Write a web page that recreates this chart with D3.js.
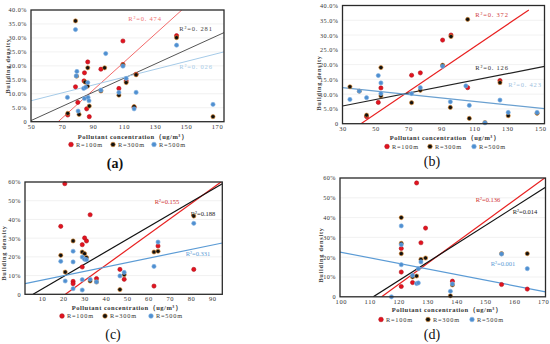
<!DOCTYPE html>
<html><head><meta charset="utf-8">
<script src="https://cdn.jsdelivr.net/npm/d3@7/dist/d3.min.js"></script>
<style>body{margin:0;background:#fff}svg{display:block}</style>
</head><body>
<script>
// ---------- data ----------
const seriesNames = ["R=100m", "R=300m", "R=500m"];

// panel (a)
const aR100 = [[73.7,2.4],[78.7,12.5],[80.2,6.9],[84.5,17.5],[84.2,14.6],[86.6,21.4],[85.9,4.6],[87.6,1.8],[95.1,18.8],[109.3,28.9],[109.3,20.5],[106.7,11.9],[111.4,14.6],[117.8,17.0],[143.9,30.8],[116.5,5.2]];
const aR300 = [[73.7,3.0],[78.7,36.1],[81.0,2.6],[84.9,14.2],[86.4,12.7],[86.6,19.3],[87.6,5.6],[97.5,19.3],[109.3,20.3],[106.7,9.5],[111.4,14.0],[116.5,5.4],[117.8,16.8],[143.9,30.1],[167.4,1.8],[95.1,11.0],[79.4,16.3]];
const aR500 = [[73.5,8.7],[78.7,33.0],[79.6,18.0],[79.2,16.4],[80.4,3.8],[84.0,11.9],[84.5,8.3],[86.6,14.0],[85.2,12.3],[86.8,8.7],[87.4,7.5],[95.1,11.3],[98.2,24.4],[106.7,10.5],[109.3,19.9],[111.4,15.5],[116.5,4.6],[117.8,10.5],[143.9,27.4],[167.4,6.2]];
const aTrend = [[[67.5,0],[147.3,40]],[[50,0.4],[174.5,31.9]],[[50,7.5],[174.5,25]]];
const aR2 = ["R²=0. 474","R²=0. 281","R²=0. 026"];

// panel (b)
const bR100 = [[44.6,2.4],[51.7,7.2],[53.3,12.1],[71.9,16.4],[77.2,17.2],[90.7,28.3],[95.8,30.0],[105.9,12.2],[125.5,14.6]];
const bR300 = [[34.5,12.5],[40.2,11.0],[44.6,2.9],[53.3,19.0],[53.3,9.4],[71.9,7.1],[77.2,11.3],[90.7,19.8],[95.8,29.5],[95.4,5.5],[105.9,35.3],[106.9,1.8],[116.4,0.4],[125.5,13.9],[130.5,2.7],[148,3.5]];
const bR500 = [[34.5,8.2],[40.2,11.0],[44.6,8.8],[51.7,16.3],[53.3,13.8],[53.3,10.2],[71.9,10.2],[77.2,12.2],[90.7,19.4],[95.4,7.4],[104.8,12.8],[106.9,6.2],[116.4,0.3],[125.5,8.0],[130.5,3.8],[148,3.8]];
const bTrend = [[[41.2,0],[143,38.5]],[[30,6.0],[152.5,19.4]],[[30,12.2],[152.5,5.1]]];
const bR2 = ["R²=0. 372","R²=0. 126","R²=0. 423"];

// panel (c)
const cR100 = [[20.7,59.1],[18.8,36.3],[24.6,6.9],[24.6,5.7],[28.9,26.5],[28.9,14.6],[30.0,30.1],[30.9,28.5],[32.6,42.5],[35.6,8.4],[46.6,13.3],[48.6,8.0],[62.6,4.4],[64.5,25.8],[81.3,13.3]];
const cR300 = [[18.8,20.8],[20.9,11.9],[24.6,28.5],[28.9,22.6],[30.0,21.7],[30.9,19.6],[32.6,7.1],[35.6,6.6],[46.6,2.5],[48.6,10.5],[62.6,22.6],[64.5,23.0],[81.3,41.8]];
const cR500 = [[18.8,17.6],[20.9,7.1],[24.6,23.0],[24.6,17.3],[24.6,3.0],[28.9,19.9],[28.9,7.8],[28.9,2.3],[30.0,18.7],[30.9,18.5],[32.6,8.0],[35.6,6.6],[46.6,9.8],[48.6,11.7],[62.6,14.9],[64.5,27.9],[81.3,37.9]];
const cTrend = [[[21,0],[94.7,60.5]],[[5.8,0],[94.7,59.1]],[[2,5.7],[94.7,27.4]]];
const cR2 = ["R²=0.155","R²=0.188","R²=0.331"];

// panel (d)
const dR100 = [[126.2,57.5],[120.9,24.4],[120.9,12.5],[120.9,5.2],[124.8,7.2],[127.7,27.3],[129.3,34.7],[138.6,7.9],[155.6,6.2],[164.5,3.9]];
const dR300 = [[120.9,40.0],[120.9,27.0],[120.9,21.8],[124.8,10.0],[126.2,10.5],[127.7,18.9],[129.3,19.6],[138.6,6.0],[137.9,0.5],[155.6,21.8],[164.5,21.8]];
const dR500 = [[120.9,35.8],[120.9,26.3],[120.9,16.2],[124.8,10.8],[126.2,6.7],[126.8,7.0],[127.7,17.6],[126.8,14.2],[138.6,6.5],[137.9,2.8],[155.6,21.6],[164.5,14.2],[117.5,0]];
const dTrend = [[[114.1,0],[170.8,60.3]],[[111.2,0],[170.8,55.3]],[[99.7,22.6],[170.8,2.5]]];
const dR2 = ["R²=0.136","R²=0.014","R²=0.001"];

// tick labels
const xTicksA = [50,70,90,110,130,150,170];
const xTicksB = [30,50,70,90,110,130,150];
const xTicksC = [10,20,30,40,50,60,70,80,90];
const xTicksD = [100,110,120,130,140,150,160,170];
const yTicks40 = [0,5,10,15,20,25,30,35,40];
const yTicks60 = [0,10,20,30,40,50,60];
const xTitle = "Pollutant concentration（ug/m³）";
const yTitle = "Building density";

// ---------- drawing ----------
const svg = d3.select("body").append("svg").attr("width",550).attr("height",344);
const serif = "'Liberation Serif','DejaVu Serif',serif";

function panel(cfg){
  const g = svg.append("g");
  const x = d3.scaleLinear().domain(cfg.xDom).range([cfg.l, cfg.r]);
  const y = d3.scaleLinear().domain(cfg.yDom).range([cfg.b, cfg.t]);
  const id = "clip"+cfg.tag;
  g.append("clipPath").attr("id",id).append("rect")
    .attr("x",cfg.l).attr("y",cfg.t).attr("width",cfg.r-cfg.l).attr("height",cfg.b-cfg.t);
  // grid
  g.append("g").selectAll("line").data(cfg.yTicks.filter(v=>v>0)).join("line")
    .attr("x1",cfg.l).attr("x2",cfg.r).attr("y1",d=>y(d)).attr("y2",d=>y(d))
    .attr("stroke","#ededed").attr("stroke-width",0.8);
  // axes
  const ax = g.append("g").attr("transform",`translate(0,${cfg.b})`)
    .call(d3.axisBottom(x).tickValues(cfg.xTicks).tickSize(0).tickPadding(2.5));
  ax.select(".domain").remove();
  ax.selectAll("text").attr("font-family",serif).attr("font-size",6.5).attr("fill","#333").attr("letter-spacing",0.6);
  const ay = g.append("g").attr("transform",`translate(${cfg.l},0)`)
    .call(d3.axisLeft(y).tickValues(cfg.yTicks).tickSize(0).tickPadding(4).tickFormat(cfg.yFmt));
  ay.select(".domain").remove();
  ay.selectAll("text").attr("font-family",serif).attr("font-size",6.2).attr("fill","#333").attr("letter-spacing",0.5);
  // trend lines
  const line = d3.line().x(d=>x(d[0])).y(d=>y(d[1]));
  g.append("g").attr("clip-path",`url(#${id})`).selectAll("path").data(cfg.trend).join("path")
    .attr("d",line).attr("fill","none")
    .attr("stroke",(d,i)=>cfg.lineColors[i]).attr("stroke-width",cfg.lineW);
  // points
  const fills = ["#e3121f","#111111","#4f8fd0"];
  const strokes = ["#b0101a","#e08a2a","#7fb0e0"];
  cfg.series.forEach((s,i)=>{
    g.append("g").selectAll("circle").data(s).join("circle")
      .attr("cx",d=>x(d[0])).attr("cy",d=>y(d[1])).attr("r",2.1)
      .attr("fill",fills[i]).attr("stroke",strokes[i]).attr("stroke-width",0.6);
  });
  // frame
  g.append("rect").attr("x",cfg.l).attr("y",cfg.t).attr("width",cfg.r-cfg.l).attr("height",cfg.b-cfg.t)
    .attr("fill","none").attr("stroke","#2a2a2a").attr("stroke-width",1.3);
  // R2 labels
  cfg.r2.forEach((txt,i)=>{
    g.append("text").attr("x",cfg.r2Pos[i][0]).attr("y",cfg.r2Pos[i][1]).attr("text-anchor","middle")
      .attr("font-family",serif).attr("font-size",6.5).attr("letter-spacing",cfg.r2Space)
      .attr("fill",cfg.labelColors[i]).text(txt);
  });
  // axis titles
  g.append("text").attr("x",cfg.xt[0]).attr("y",cfg.xt[1]).attr("text-anchor","middle")
    .attr("font-family",serif).attr("font-size",6.5).attr("font-weight","bold").attr("letter-spacing",0.5)
    .attr("fill","#333").text(xTitle);
  g.append("text").attr("transform",`translate(${cfg.yt[0]},${cfg.yt[1]}) rotate(-90)`).attr("text-anchor","middle")
    .attr("font-family",serif).attr("font-size",6.3).attr("font-weight","bold").attr("letter-spacing",0.7)
    .attr("fill","#333").text(yTitle);
  // legend
  seriesNames.forEach((nm,i)=>{
    const lx = cfg.legX[i];
    g.append("circle").attr("cx",lx).attr("cy",cfg.legY).attr("r",2.3)
      .attr("fill",fills[i]).attr("stroke",strokes[i]).attr("stroke-width",0.6);
    g.append("text").attr("x",lx+5).attr("y",cfg.legY+2.3).attr("font-family",serif).attr("font-size",6.3)
      .attr("letter-spacing",0.8).attr("fill","#333").text(nm);
  });
  // panel tag
  g.append("text").attr("x",cfg.tagPos[0]).attr("y",cfg.tagPos[1]).attr("text-anchor","middle")
    .attr("font-family",serif).attr("font-size",14).attr("font-weight",cfg.tagBold?"bold":"normal")
    .attr("fill","#111").text(`(${cfg.tag})`);
}

const fmt1 = d => d===0 ? "0" : d.toFixed(1)+"%";
const fmt0 = d => d===0 ? "0" : d+"%";

panel({tag:"a", l:31, r:224, t:10, b:121.7, xDom:[50,174.5], yDom:[0,40], xTicks:xTicksA, yTicks:yTicks40, yFmt:fmt1,
  series:[aR100,aR300,aR500], trend:aTrend, lineColors:["#f26a6a","#555555","#a6cbe8"], lineW:1,
  r2:aR2, r2Pos:[[145,21],[196,31],[196,69]], r2Space:0.8, labelColors:["#f07070","#444","#a6cbe8"],
  xt:[133,138.5], yt:[10,66], legX:[71,113,154], legY:144.5, tagPos:[115,168], tagBold:true});

panel({tag:"b", l:342.5, r:544.5, t:5.5, b:123.7, xDom:[30,152.5], yDom:[0,40], xTicks:xTicksB, yTicks:yTicks40, yFmt:fmt1,
  series:[bR100,bR300,bR500], trend:bTrend, lineColors:["#e82020","#222222","#6aa0d0"], lineW:1.2,
  r2:bR2, r2Pos:[[492,17],[492,70],[525,87]], r2Space:0.8, labelColors:["#d04040","#333","#9cc0e0"],
  xt:[445,140], yt:[321,83], legX:[387,430,474], legY:146.5, tagPos:[432,166], tagBold:false});

panel({tag:"c", l:25, r:222.3, t:182, b:294.3, xDom:[2,94.7], yDom:[0,60], xTicks:xTicksC, yTicks:yTicks60, yFmt:fmt0,
  series:[cR100,cR300,cR500], trend:cTrend, lineColors:["#e82020","#111111","#5b9bd5"], lineW:1.2,
  r2:cR2, r2Pos:[[167,204],[203,216],[198,256]], r2Space:0, labelColors:["#d03030","#222","#5b9bd5"],
  xt:[127,309.5], yt:[6,253], legX:[62,105,151], legY:316, tagPos:[113,339], tagBold:false});

panel({tag:"d", l:340, r:545.5, t:178, b:296.8, xDom:[99.7,170.8], yDom:[0,60], xTicks:xTicksD, yTicks:yTicks60, yFmt:fmt0,
  series:[dR100,dR300,dR500], trend:dTrend, lineColors:["#e82020","#111111","#5b9bd5"], lineW:1.2,
  r2:dR2, r2Pos:[[488,202],[525,214],[503,266]], r2Space:0, labelColors:["#d03030","#222","#5b9bd5"],
  xt:[447,311.5], yt:[323,255], legX:[381,428,472], legY:319.5, tagPos:[432,339], tagBold:false});
</script>
</body></html>
